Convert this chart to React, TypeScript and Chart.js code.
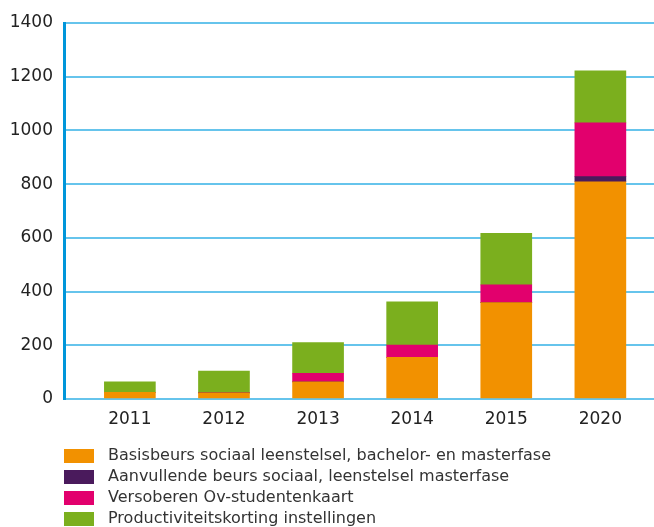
import React, { useEffect, useRef } from "react";
import { Chart, registerables } from "chart.js";

Chart.register(...registerables);

const years = ["2011", "2012", "2013", "2014", "2015", "2020"];
const basisbeurs = [25, 23, 64, 155, 359, 809];
const aanvullend = [0, 0, 0, 0, 0, 19];
const ovKaart = [0, 0, 32, 46, 66, 200];
const productiviteit = [39, 81, 114, 161, 192, 194];
const yTicks = [0, 200, 400, 600, 800, 1000, 1200, 1400];

const seriesLabels = [
  "Basisbeurs sociaal leenstelsel, bachelor- en masterfase",
  "Aanvullende beurs sociaal, leenstelsel masterfase",
  "Versoberen Ov-studentenkaart",
  "Productiviteitskorting instellingen",
];
const seriesColors = ["#F29100", "#4A1A5C", "#E2006D", "#7BAF1E"];

const FONT = '"DejaVu Sans", Verdana, sans-serif';

const legendPlugin = {
  id: "customLegend",
  afterDraw(chart: any) {
    const ctx = chart.ctx;
    ctx.save();
    ctx.font = "16px " + FONT;
    ctx.textBaseline = "middle";
    chart.data.datasets.forEach((ds: any, i: number) => {
      const y = 456 + i * 21;
      ctx.fillStyle = ds.backgroundColor;
      ctx.fillRect(64, y - 7, 30, 14);
      ctx.fillStyle = "#333333";
      ctx.fillText(ds.label, 108, y);
    });
    ctx.restore();
  },
};

export default function App() {
  const ref = useRef<HTMLCanvasElement | null>(null);
  useEffect(() => {
    document.body.style.margin = "0";
    const series = [basisbeurs, aanvullend, ovKaart, productiviteit];
    const chart = new Chart(ref.current!, {
      type: "bar",
      data: {
        datasets: series.map((vals, si) => ({
          label: seriesLabels[si],
          data: vals.map((v, i) => ({ x: i, y: v })),
          backgroundColor: seriesColors[si],
          borderWidth: 0,
          barThickness: 51,
          stack: "s",
        })),
      },
      plugins: [legendPlugin],
      options: {
        animation: false,
        responsive: false,
        layout: { padding: { top: 23, right: 0, left: 0, bottom: 0 } },
        plugins: { legend: { display: false }, tooltip: { enabled: false } },
        scales: {
          x: {
            type: "linear",
            stacked: true,
            offset: false,
            min: -0.7,
            max: 5.57,
            afterBuildTicks: (s: any) => {
              s.ticks = years.map((_, i) => ({ value: i }));
            },
            afterFit: (s: any) => {
              s.height = 128;
            },
            grid: { display: false, drawTicks: false, offset: false },
            border: { display: false },
            ticks: {
              callback: (v: any) => years[v] ?? "",
              font: { family: FONT, size: 17 },
              color: "#222222",
              padding: 10,
              maxRotation: 0,
              autoSkip: false,
            },
          },
          y: {
            stacked: true,
            min: 0,
            max: 1400,
            afterBuildTicks: (s: any) => {
              s.ticks = yTicks.map((v) => ({ value: v }));
            },
            afterFit: (s: any) => {
              s.width = 64;
            },
            grid: { color: "#66C4EC", lineWidth: 2, drawTicks: false },
            border: { color: "#0096DA", width: 3 },
            ticks: {
              callback: (v: any) => String(v),
              font: { family: FONT, size: 17 },
              color: "#222222",
              padding: 11,
            },
          },
        },
      },
    });
    return () => chart.destroy();
  }, []);
  return (
    <div style={{ width: 654, height: 527 }}>
      <canvas ref={ref} width={654} height={527} />
    </div>
  );
}
